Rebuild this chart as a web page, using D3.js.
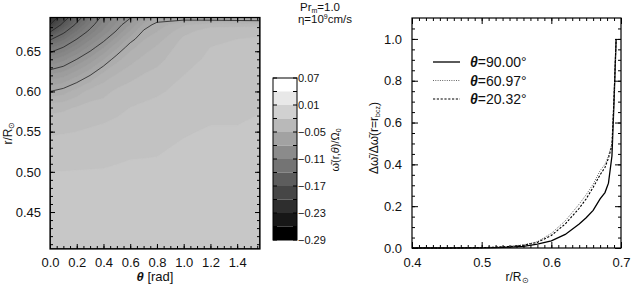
<!DOCTYPE html>
<html>
<head>
<meta charset="utf-8">
<script src="https://cdn.jsdelivr.net/npm/d3@7"></script>
<style>
body { margin: 0; background: #fff; }
svg text { font-family: "Liberation Sans", Arial, sans-serif; fill: #111; }
</style>
</head>
<body>
<svg id="chart" width="631" height="285"></svg>
<script>
// ---- left panel: omega(r, theta) ----
let thetaCols = [0, 0.1, 0.2, 0.3, 0.4, 0.5, 0.6, 0.7, 0.8, 1.0, 1.2, 1.4, 1.5708];
let rRows = [0.404, 0.45, 0.50, 0.55, 0.58, 0.60, 0.62, 0.64, 0.655, 0.665, 0.675, 0.683, 0.692];
// one row per r (bottom to top), one column per theta
let omegaGrid = [
    [-0.009, -0.009, -0.009, -0.009, -0.009, -0.0085, -0.008, -0.008, -0.008, -0.008, -0.007, -0.007, -0.007],
    [-0.011, -0.011, -0.011, -0.0105, -0.010, -0.010, -0.010, -0.0095, -0.009, -0.009, -0.008, -0.008, -0.008],
    [-0.0125, -0.0124, -0.0122, -0.0121, -0.012, -0.0115, -0.011, -0.011, -0.011, -0.010, -0.010, -0.009, -0.009],
    [-0.021, -0.0205, -0.020, -0.019, -0.018, -0.017, -0.016, -0.0155, -0.015, -0.013, -0.012, -0.012, -0.011],
    [-0.030, -0.029, -0.027, -0.025, -0.024, -0.022, -0.020, -0.019, -0.018, -0.016, -0.014, -0.014, -0.013],
    [-0.050, -0.046, -0.039, -0.032, -0.030, -0.026, -0.024, -0.022, -0.021, -0.018, -0.016, -0.015, -0.015],
    [-0.071, -0.067, -0.059, -0.050, -0.039, -0.034, -0.030, -0.027, -0.025, -0.020, -0.018, -0.017, -0.016],
    [-0.097, -0.090, -0.080, -0.070, -0.058, -0.045, -0.038, -0.033, -0.030, -0.022, -0.019, -0.018, -0.017],
    [-0.120, -0.110, -0.098, -0.085, -0.073, -0.059, -0.045, -0.039, -0.034, -0.024, -0.020, -0.019, -0.018],
    [-0.142, -0.127, -0.110, -0.096, -0.083, -0.069, -0.054, -0.043, -0.038, -0.026, -0.021, -0.020, -0.019],
    [-0.173, -0.145, -0.124, -0.107, -0.093, -0.079, -0.064, -0.049, -0.043, -0.030, -0.024, -0.023, -0.022],
    [-0.200, -0.163, -0.136, -0.115, -0.099, -0.085, -0.072, -0.055, -0.047, -0.036, -0.030, -0.030, -0.030],
    [-0.220, -0.184, -0.149, -0.125, -0.105, -0.092, -0.081, -0.066, -0.056, -0.058, -0.062, -0.064, -0.066]
];
let lineLevels = [-0.20, -0.17, -0.14, -0.11, -0.08, -0.05];
let thetaTicks = [0.0, 0.2, 0.4, 0.6, 0.8, 1.0, 1.2, 1.4];
let rTicks = [0.45, 0.50, 0.55, 0.60, 0.65];
let cbBounds = [0.07, 0.04, 0.01, -0.02, -0.05, -0.08, -0.11, -0.14, -0.17, -0.20, -0.23, -0.26, -0.29];
let cbLabels = [0.07, 0.01, -0.05, -0.11, -0.17, -0.23, -0.29];

// ---- right panel: normalised profiles ----
let rProfile = [0.40, 0.45, 0.50, 0.52, 0.54, 0.56, 0.58, 0.60, 0.62, 0.64, 0.65, 0.66, 0.67, 0.677, 0.682, 0.687, 0.690, 0.693];
let dw90 = [0, 0, 0.001, 0.002, 0.004, 0.008, 0.018, 0.034, 0.065, 0.115, 0.145, 0.180, 0.235, 0.265, 0.31, 0.44, 0.70, 1.0];
let dw61 = [0, 0, 0.002, 0.004, 0.008, 0.015, 0.030, 0.070, 0.130, 0.210, 0.255, 0.305, 0.370, 0.400, 0.44, 0.50, 0.72, 1.0];
let dw20 = [0, 0, 0.002, 0.004, 0.007, 0.013, 0.027, 0.060, 0.115, 0.190, 0.235, 0.290, 0.350, 0.385, 0.43, 0.49, 0.72, 1.0];
let profileNames = ["\u03b8=90.00\u00b0", "\u03b8=60.97\u00b0", "\u03b8=20.32\u00b0"];
let rTicksR = [0.4, 0.5, 0.6, 0.7];
let dwTicks = [0.0, 0.2, 0.4, 0.6, 0.8, 1.0];

let svg = d3.select("#chart");
let fmt2 = d3.format(".2f"), fmt1 = d3.format(".1f");

// helper: IDL-style inward ticks on all four sides
function frameAxes(g, x, y, xMaj, xMin, yMaj, yMin, xFmt, yFmt, maj, mnr) {
    let [x0, x1] = x.range(), [y1, y0] = y.range();
    let defs = [
        [d3.axisBottom(x), `translate(0,${y1})`, xMaj, xMin, xFmt],
        [d3.axisTop(x), `translate(0,${y0})`, xMaj, xMin, null],
        [d3.axisLeft(y), `translate(${x0},0)`, yMaj, yMin, yFmt],
        [d3.axisRight(y), `translate(${x1},0)`, yMaj, yMin, null]
    ];
    defs.forEach(([ax, tr, majV, minV, f]) => {
        g.append("g").attr("transform", tr)
            .call(ax.tickValues(minV).tickSize(-mnr).tickFormat(""))
            .call(s => s.select(".domain").remove())
            .call(s => s.selectAll("line").attr("stroke", "#000"));
        let a = g.append("g").attr("transform", tr)
            .call(ax.tickValues(majV).tickSize(-maj).tickPadding(maj + 4).tickFormat(f || ""))
            .call(s => s.select(".domain").remove());
        a.selectAll("line").attr("stroke", "#000");
        a.selectAll("text").attr("font-size", 13).attr("font-family", "Liberation Sans, Arial, sans-serif").attr("fill", "#111");
    });
    g.append("rect").attr("x", x0).attr("y", y0).attr("width", x1 - x0).attr("height", y1 - y0)
        .attr("fill", "none").attr("stroke", "#000").attr("stroke-width", 1.2);
}

// ================= left: contour map =================
let xL = d3.scaleLinear().domain([0, Math.PI / 2]).range([50, 260]);
let yL = d3.scaleLinear().domain([0.404, 0.692]).range([249, 17.5]);
let gray = v => {
    let c = Math.round(Math.max(0, Math.min(255, 255 * (v + 0.29) / 0.36)));
    return `rgb(${c},${c},${c})`;
};
let colIdx = d3.scaleLinear().domain(d3.range(thetaCols.length)).range(thetaCols).clamp(true);
let rowIdx = d3.scaleLinear().domain(d3.range(rRows.length)).range(rRows).clamp(true);
let ringPath = ring => "M" + ring.map(p => xL(colIdx(p[0] - 0.5)) + "," + yL(rowIdx(p[1] - 0.5))).join("L") + "Z";
let geoPath = geo => geo.coordinates.map(poly => poly.map(ringPath).join("")).join("");

let values = omegaGrid.flat();
let step = 0.0075;
let fillLevels = d3.range(-0.29, 0.0701, step);
let contours = d3.contours().size([thetaCols.length, rRows.length]).thresholds(fillLevels)(values);

svg.append("clipPath").attr("id", "clipL").append("rect")
    .attr("x", 50).attr("y", 17.5).attr("width", 210).attr("height", 231.5);
let map = svg.append("g").attr("clip-path", "url(#clipL)");
map.append("rect").attr("x", 50).attr("y", 17.5).attr("width", 210).attr("height", 231.5)
    .attr("fill", gray(d3.min(values)));
map.selectAll("path.fill").data(contours).enter().append("path")
    .attr("class", "fill")
    .attr("d", d => geoPath(d))
    .attr("fill", d => gray(d.value + step / 2))
    .attr("stroke", d => gray(d.value + step / 2))
    .attr("stroke-width", 0.4);
let lines = d3.contours().size([thetaCols.length, rRows.length]).thresholds(lineLevels)(values);
map.selectAll("path.cline").data(lines).enter().append("path")
    .attr("class", "cline")
    .attr("d", d => geoPath(d))
    .attr("fill", "none")
    .attr("stroke", "#222")
    .attr("stroke-width", 0.8);

frameAxes(svg.append("g"), xL, yL, thetaTicks, d3.range(0, 1.58, 0.05), rTicks, d3.range(0.41, 0.69, 0.01),
    fmt1, fmt2, 5, 3);

svg.append("text").attr("x", 155).attr("y", 281).attr("text-anchor", "middle").attr("font-size", 13)
    .html('<tspan font-style="italic" font-weight="bold">\u03b8</tspan> [rad]');
svg.append("text").attr("transform", "translate(12,133) rotate(-90)").attr("text-anchor", "middle")
    .attr("font-size", 12).html('r/R<tspan font-size="8" dy="2">\u2299</tspan>');

// colorbar
let cbY = d3.scaleLinear().domain([-0.29, 0.07]).range([240, 78]);
let cb = svg.append("g");
cb.selectAll("rect.band").data(d3.pairs(cbBounds)).enter().append("rect")
    .attr("class", "band")
    .attr("x", 273).attr("width", 24)
    .attr("y", d => cbY(d[0])).attr("height", d => cbY(d[1]) - cbY(d[0]))
    .attr("fill", (d, i) => {
        let c = Math.round(255 * (cbBounds.length - 2 - i) / (cbBounds.length - 2));
        return `rgb(${c},${c},${c})`;
    });
cb.selectAll("line.tl").data(cbBounds).enter().append("line")
    .attr("x1", 273).attr("x2", 277).attr("y1", d => cbY(d)).attr("y2", d => cbY(d)).attr("stroke", "#000");
cb.selectAll("line.tr").data(cbBounds).enter().append("line")
    .attr("x1", 293).attr("x2", 297).attr("y1", d => cbY(d)).attr("y2", d => cbY(d)).attr("stroke", "#000");
cb.append("rect").attr("x", 273).attr("y", 78).attr("width", 24).attr("height", 162)
    .attr("fill", "none").attr("stroke", "#000");
cb.selectAll("text.cbl").data(cbLabels).enter().append("text")
    .attr("x", 298).attr("y", d => cbY(d) + 4).attr("font-size", 11)
    .text(d => fmt2(d).replace("-", "\u2212"));
svg.append("text").attr("transform", "translate(339,150) rotate(-90)").attr("text-anchor", "middle")
    .attr("font-size", 11)
    .html('\u03c9\u0304(r,<tspan font-style="italic">\u03b8</tspan>)/\u03a9<tspan font-size="7" dy="2">0</tspan>');

svg.append("text").attr("x", 320).attr("y", 11).attr("text-anchor", "middle").attr("font-size", 11.5)
    .html('Pr<tspan font-size="7" dy="2">m</tspan><tspan dy="-2">=1.0</tspan>');
svg.append("text").attr("x", 325).attr("y", 23).attr("text-anchor", "middle").attr("font-size", 11.5)
    .html('\u03b7=10<tspan font-size="7" dy="-4">9</tspan><tspan dy="4">cm/s</tspan>');

// ================= right: profiles =================
let xR = d3.scaleLinear().domain([0.4, 0.7]).range([412, 621]);
let yR = d3.scaleLinear().domain([0, 1.1]).range([248, 18]);
let series = [dw90, dw61, dw20];
let styles = [
    { stroke: "#000", width: 1.3, dash: null },
    { stroke: "#666", width: 1, dash: "1,1.3" },
    { stroke: "#000", width: 1.1, dash: "2.2,1.6" }
];
let line = d3.line().x((d, i) => xR(rProfile[i])).y(d => yR(d));
svg.selectAll("path.prof").data(series).enter().append("path")
    .attr("class", "prof")
    .attr("d", d => line(d))
    .attr("fill", "none")
    .attr("stroke", (d, i) => styles[i].stroke)
    .attr("stroke-width", (d, i) => styles[i].width)
    .attr("stroke-dasharray", (d, i) => styles[i].dash);

frameAxes(svg.append("g"), xR, yR, rTicksR, d3.range(0.4, 0.7001, 0.01), dwTicks, d3.range(0, 1.1, 0.05),
    fmt1, fmt1, 6, 3);

let leg = svg.append("g");
profileNames.forEach((name, i) => {
    let yy = 62 + i * 18.5;
    leg.append("line").attr("x1", 433).attr("x2", 460).attr("y1", yy).attr("y2", yy)
        .attr("stroke", styles[i].stroke).attr("stroke-width", styles[i].width)
        .attr("stroke-dasharray", styles[i].dash);
    leg.append("text").attr("x", 470).attr("y", yy + 5).attr("font-size", 14)
        .html('<tspan font-style="italic" font-weight="bold">\u03b8</tspan>' + name.slice(1));
});

svg.append("text").attr("x", 517).attr("y", 281).attr("text-anchor", "middle").attr("font-size", 12)
    .html('r/R<tspan font-size="8" dy="2">\u2299</tspan>');
svg.append("text").attr("transform", "translate(378,138) rotate(-90)").attr("text-anchor", "middle")
    .attr("font-size", 12)
    .html('\u0394\u03c9\u0304/\u0394\u03c9\u0304(r=r<tspan font-size="7" dy="2">bcz</tspan><tspan dy="-2">)</tspan>');
</script>
</body>
</html>
